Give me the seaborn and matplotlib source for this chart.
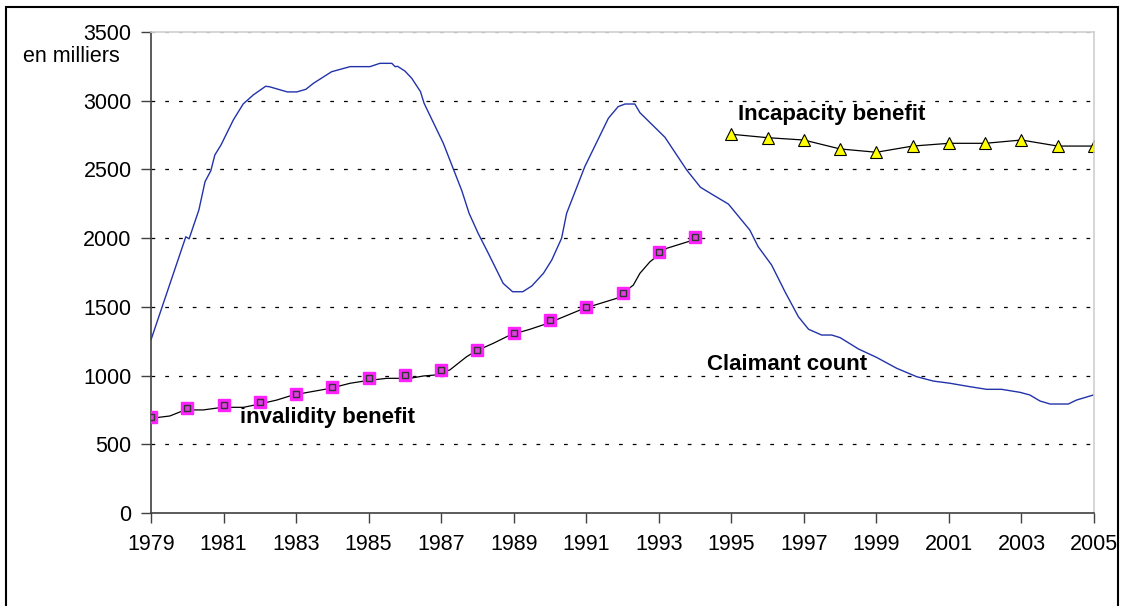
import numpy as np
import pandas as pd
import matplotlib
matplotlib.use('Agg')
import matplotlib.pyplot as plt
from matplotlib.patches import Rectangle
import seaborn as sns

# Claimant count (irregular sampling)
claimant_year = [1979.0, 1979.96, 1980.05, 1980.32, 1980.49, 1980.65, 1980.76, 1980.93,
                 1981.27, 1981.54, 1981.82, 1982.16, 1982.26, 1982.76, 1983.02, 1983.27,
                 1983.48, 1983.98, 1984.49, 1985.04, 1985.31, 1985.64, 1985.73, 1985.8,
                 1986.0, 1986.19, 1986.43, 1986.53, 1987.06, 1987.57, 1987.77, 1988.02,
                 1988.3, 1988.71, 1988.97, 1989.25, 1989.5, 1989.82, 1990.05, 1990.32,
                 1990.46, 1990.96, 1991.61, 1991.88, 1992.07, 1992.34, 1992.48, 1993.17,
                 1993.77, 1994.15, 1994.5, 1994.92, 1995.51, 1995.74, 1996.11, 1996.48,
                 1996.85, 1997.13, 1997.49, 1997.77, 1998.0, 1998.51, 1999.0, 1999.56,
                 2000.11, 2000.57, 2001.03, 2001.58, 2002.04, 2002.45, 2002.96, 2003.23,
                 2003.51, 2003.79, 2004.29, 2004.52, 2005.0]
claimant_val = [1260, 2010, 1995, 2205, 2411, 2491, 2605, 2678,
                2860, 2976, 3042, 3105, 3102, 3064, 3064, 3083,
                3127, 3211, 3248, 3248, 3272, 3272, 3248, 3250,
                3216, 3163, 3066, 2981, 2690, 2345, 2181, 2035,
                1890, 1671, 1610, 1610, 1652, 1744, 1841, 1999,
                2181, 2520, 2872, 2957, 2976, 2976, 2913, 2734,
                2496, 2370, 2314, 2248, 2059, 1938, 1805, 1610,
                1428, 1337, 1295, 1295, 1276, 1193, 1133, 1053,
                992, 960, 944, 919, 900, 900, 878, 859,
                815, 793, 793, 822, 860]

# Invalidity benefit: smoothed line + yearly markers
inval_line_year = [1979.0, 1979.52, 1979.94, 1980.44, 1980.97, 1981.55, 1981.96, 1982.47,
                   1982.92, 1983.94, 1984.49, 1984.95, 1985.5, 1986.14, 1986.51, 1986.83,
                   1987.24, 1987.7, 1987.96, 1988.44, 1988.9, 1989.45, 1989.94, 1990.94,
                   1991.84, 1992.3, 1992.48, 1992.76, 1992.94, 1993.22, 1993.95]
inval_line_val = [689, 706, 750, 750, 769, 769, 791, 822,
                  859, 907, 944, 963, 980, 980, 997, 1004,
                  1041, 1137, 1179, 1235, 1295, 1337, 1380, 1489,
                  1562, 1659, 1744, 1829, 1865, 1926, 1986]
inval_year = list(range(1979, 1995))
inval_val = [696, 762, 784, 806, 868, 917, 982, 1002, 1038, 1184, 1307, 1404,
             1497, 1603, 1897, 2011]

# Incapacity benefit, yearly
incap_year = list(range(1995, 2006))
incap_val = [2756, 2731, 2714, 2649, 2625, 2670, 2690, 2690, 2714, 2670, 2670]

xticks = list(range(1979, 2006, 2))
yticks = list(range(0, 3501, 500))

claimant = pd.DataFrame({'year': claimant_year, 'val': claimant_val})
inval_line = pd.DataFrame({'year': inval_line_year, 'val': inval_line_val})
inval = pd.DataFrame({'year': inval_year, 'val': inval_val})
incap = pd.DataFrame({'year': incap_year, 'val': incap_val})

sns.set_style('white')
plt.rcParams['font.family'] = ['Liberation Sans', 'DejaVu Sans']
plt.rcParams['text.color'] = 'black'

fig = plt.figure(figsize=(11.21, 6.06), dpi=100)
ax = fig.add_axes([151 / 1121, 1 - 513 / 606, (1094 - 151) / 1121, (513 - 32) / 606])

sns.lineplot(data=claimant, x='year', y='val', ax=ax, color='#2233AA', lw=1.0,
             sort=False, estimator=None)
sns.lineplot(data=inval_line, x='year', y='val', ax=ax, color='black', lw=0.9,
             sort=False, estimator=None)
ax.plot(inval['year'], inval['val'], ls='none', marker='s', ms=8,
        mfc='#FF22FF', mec='#FF22FF', zorder=4)
ax.plot(inval['year'], inval['val'], ls='none', marker='s', ms=5,
        mfc='#E040E0', mec='#333333', mew=1.0, zorder=5)
sns.lineplot(data=incap, x='year', y='val', ax=ax, color='black', lw=0.9,
             sort=False, estimator=None, marker='^', markersize=8,
             markerfacecolor='#FFFF00', markeredgecolor='black', markeredgewidth=0.8)

ax.set_xlim(1979, 2005)
ax.set_ylim(0, 3500)
ax.set_xticks(xticks)
ax.set_yticks(yticks)
ax.set_xlabel('')
ax.set_ylabel('')
ax.tick_params(axis='both', labelsize=15.5, labelcolor='black', direction='out',
               length=7, width=1, color='#404040', bottom=True, left=True)
ax.tick_params(axis='x', pad=8)
ax.tick_params(axis='y', pad=7)

ax.yaxis.grid(True, color='black', lw=0.9, ls=(0, (3, 8)))
gl = ax.get_ygridlines()
gl[0].set_visible(False)
gl[-1].set_color('#888888')

for s in ['left', 'bottom']:
    ax.spines[s].set_color('#404040')
    ax.spines[s].set_linewidth(1.2)
for s in ['top', 'right']:
    ax.spines[s].set_color('#D0D0D0')
    ax.spines[s].set_linewidth(1.2)

ax.text(1995.18, 2903, 'Incapacity benefit', fontsize=16, fontweight='bold',
        ha='left', va='center', color='black')
ax.text(1994.33, 1077, 'Claimant count', fontsize=16, fontweight='bold',
        ha='left', va='center', color='black')
ax.text(1981.45, 697, 'invalidity benefit', fontsize=16, fontweight='bold',
        ha='left', va='center', color='black')

fig.text(23 / 1121, 1 - 56 / 606, 'en milliers', fontsize=15.5, ha='left', va='center')

# outer frame
fig.patches.append(Rectangle((6 / 1121, -0.05), (1118 - 6) / 1121, 1.05 - 7 / 606,
                             transform=fig.transFigure, fill=False, ec='black', lw=1.5))

fig.savefig('out.png', dpi=100)
